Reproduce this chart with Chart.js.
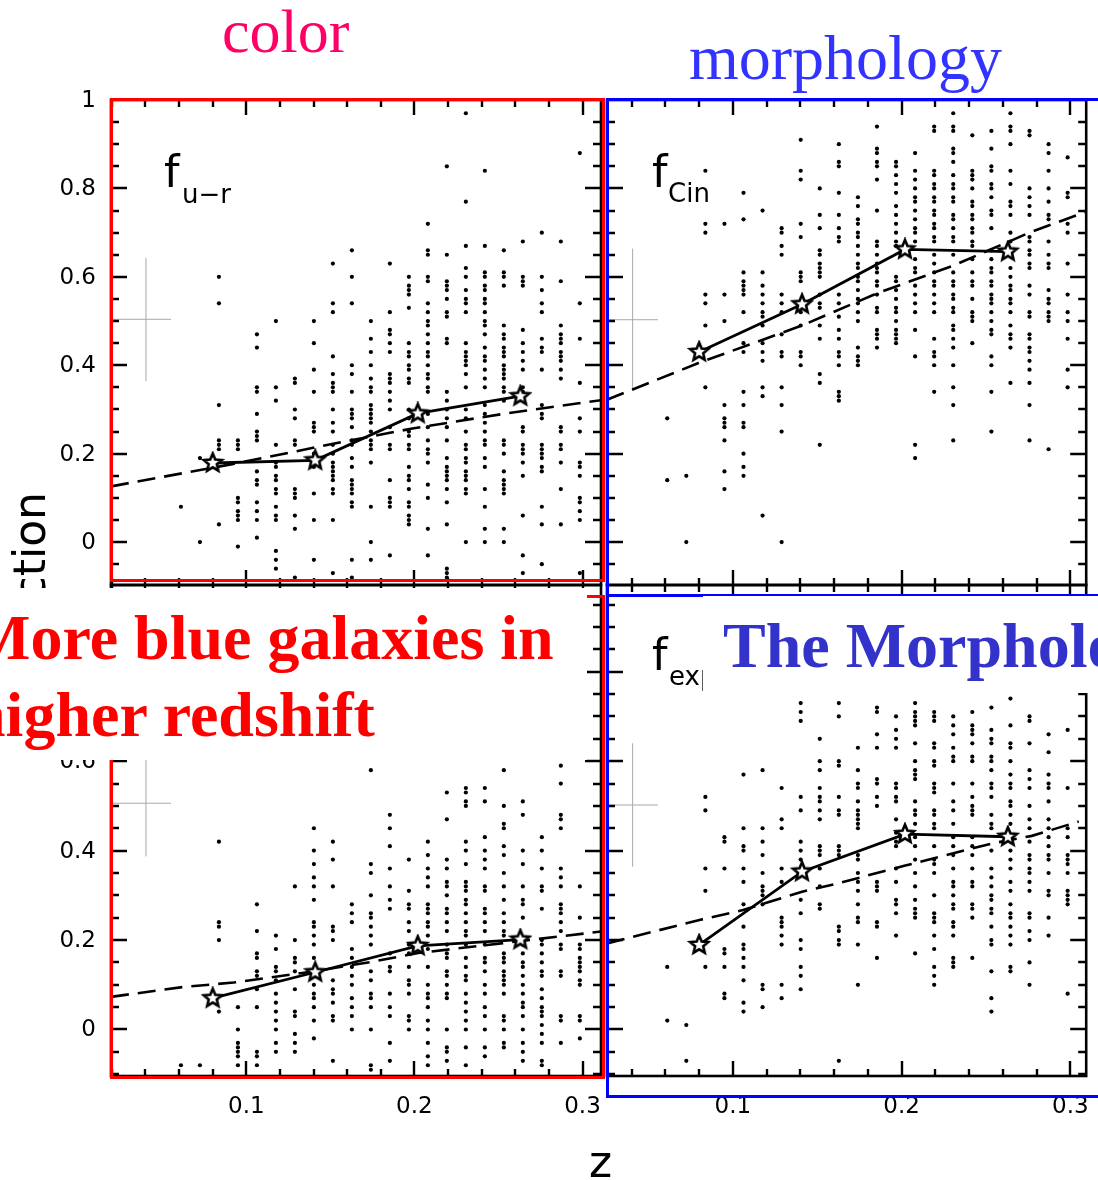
<!DOCTYPE html>
<html>
<head>
<meta charset="utf-8">
<script src="https://cdn.jsdelivr.net/npm/chart.js@4.4.1/dist/chart.umd.min.js"></script>
<style>
  body { margin: 0; background: #fff; }
  #page { position: relative; width: 1098px; height: 1180px; overflow: hidden; background: #fff; }
  #page canvas { position: absolute; left: 0; top: 0; }
  .txt { position: absolute; white-space: nowrap; }
  .sans { font-family: 'DejaVu Sans', sans-serif; color: #000; }
  .serif { font-family: 'Liberation Serif', 'Times New Roman', serif; }
  .box { position: absolute; box-sizing: border-box; border: 3px solid; }
  .cover { position: absolute; background: #fff; overflow: hidden; }
</style>
</head>
<body>
<div id="page">
  <canvas id="urChart" width="1098" height="1180"></canvas>
  <canvas id="cinChart" width="1098" height="1180"></canvas>
  <canvas id="colourChart" width="1098" height="1180"></canvas>
  <canvas id="expChart" width="1098" height="1180"></canvas>

  <!-- panel labels -->
  <div class="txt sans" style="left:164px;top:150px;font-size:44px;line-height:44px">f</div>
  <div class="txt sans" style="left:182px;top:181px;font-size:26px;line-height:26px">u−r</div>
  <div class="txt sans" style="left:652px;top:150px;font-size:44px;line-height:44px">f</div>
  <div class="txt sans" style="left:668px;top:180px;font-size:26px;line-height:26px">Cin</div>
  <div class="txt sans" style="left:652px;top:633px;font-size:44px;line-height:44px">f</div>
  <div class="txt sans" style="left:669px;top:663px;font-size:26px;line-height:26px">exp</div>

  <!-- shared axis titles -->
  <div class="txt sans" style="left:8px;top:792px;width:300px;text-align:right;font-size:44px;line-height:44px;transform:rotate(-90deg);transform-origin:0 0">fraction</div>
  <div class="txt sans" style="left:589px;top:1140px;font-size:44px;line-height:44px">z</div>

  <!-- colour / morphology groupings -->
  <div class="box" style="left:110px;top:98px;width:495px;height:484px;border-color:#ff0000"></div>
  <div class="box" style="left:110px;top:595px;width:495px;height:484px;border-color:#ff0000"></div>
  <div class="box" style="left:606px;top:98px;width:520px;height:499px;border-color:#0000ff;border-right:none"></div>
  <div class="box" style="left:606px;top:594px;width:520px;height:504px;border-color:#0000ff;border-right:none"></div>

  <div class="cover" style="left:0;top:588px;width:587px;height:172px">
    <div class="txt serif" style="left:-30px;top:18px;font-size:64px;line-height:64px;font-weight:bold;color:#ff0000">More blue galaxies in</div>
    <div class="txt serif" style="left:-30px;top:95px;font-size:64px;line-height:64px;font-weight:bold;color:#ff0000">higher redshift</div>
  </div>
  <div class="cover" style="left:703px;top:596px;width:395px;height:97px">
    <div class="txt serif" style="left:20px;top:18px;font-size:64px;line-height:64px;font-weight:bold;color:#3333cc">The Morphology</div>
  </div>

  <div class="txt serif" style="left:222px;top:0px;font-size:62px;line-height:62px;color:#ff0066">color</div>
  <div class="txt serif" style="left:689px;top:26px;font-size:64px;line-height:64px;color:#3333ff">morphology</div>
</div>

<script>
// redshift of each column of clusters
const zColumns = [0.0611, 0.0724, 0.0837, 0.0950, 0.1063, 0.1176, 0.1289, 0.1402, 0.1515, 0.1628, 0.1741,
                  0.1854, 0.1967, 0.2080, 0.2193, 0.2306, 0.2419, 0.2532, 0.2645, 0.2758, 0.2871, 0.2984];

// per-cluster fractions, one list per column of zColumns
const urCols = [
  [0.08],
  [0.0, 0.19],
  [0.60, 0.54, 0.31, 0.23, 0.22, 0.21, 0.04],
  [0.23, 0.22, 0.21, 0.10, 0.09, 0.07, 0.06, 0.05, -0.01],
  [0.47, 0.44, 0.35, 0.34, 0.29, 0.25, 0.24, 0.23, 0.16, 0.14, 0.13, 0.09, 0.07, 0.05, 0.01],
  [0.50, 0.35, 0.32, 0.22, 0.18, 0.17, 0.15, 0.14, 0.12, 0.11, 0.08, 0.06, 0.05, -0.02, -0.04, -0.06],
  [0.37, 0.36, 0.30, 0.28, 0.23, 0.22, 0.12, 0.11, 0.10, 0.06, 0.03, -0.08],
  [0.50, 0.45, 0.39, 0.34, 0.27, 0.26, 0.25, 0.20, 0.18, 0.17, 0.11, 0.05, -0.04],
  [0.63, 0.54, 0.52, 0.42, 0.38, 0.36, 0.35, 0.34, 0.30, 0.27, 0.25, 0.22, 0.20, 0.18, 0.17, 0.16, 0.15, 0.14, 0.12, 0.11, 0.05, -0.07],
  [0.66, 0.60, 0.54, 0.40, 0.38, 0.34, 0.30, 0.29, 0.28, 0.26, 0.23, 0.22, 0.19, 0.17, 0.14, 0.13, 0.12, 0.11, 0.09, 0.08, -0.04, -0.08],
  [0.50, 0.46, 0.43, 0.40, 0.37, 0.35, 0.34, 0.31, 0.30, 0.29, 0.28, 0.27, 0.25, 0.23, 0.22, 0.21, 0.18, 0.08, 0.0, -0.04],
  [0.63, 0.52, 0.48, 0.47, 0.45, 0.43, 0.38, 0.37, 0.36, 0.34, 0.32, 0.30, 0.26, 0.22, 0.21, 0.14, 0.10, 0.09, 0.08, -0.03],
  [0.60, 0.58, 0.57, 0.56, 0.53, 0.45, 0.43, 0.42, 0.40, 0.39, 0.37, 0.36, 0.30, 0.28, 0.25, 0.24, 0.22, 0.21, 0.17, 0.15, 0.14, 0.12, 0.09, 0.08, 0.06, 0.05, 0.04],
  [0.72, 0.66, 0.65, 0.60, 0.59, 0.54, 0.52, 0.50, 0.49, 0.47, 0.45, 0.43, 0.42, 0.40, 0.38, 0.37, 0.35, 0.34, 0.29, 0.26, 0.23, 0.21, 0.20, 0.18, 0.13, 0.10, 0.03, -0.03],
  [0.85, 0.65, 0.59, 0.58, 0.57, 0.55, 0.52, 0.51, 0.46, 0.45, 0.34, 0.32, 0.30, 0.28, 0.26, 0.23, 0.19, 0.17, 0.16, 0.15, 0.14, 0.12, 0.09, 0.04, -0.06, -0.07, -0.08],
  [0.97, 0.77, 0.67, 0.62, 0.60, 0.57, 0.55, 0.54, 0.52, 0.45, 0.43, 0.42, 0.41, 0.40, 0.38, 0.35, 0.30, 0.28, 0.25, 0.22, 0.21, 0.19, 0.18, 0.16, 0.15, 0.14, 0.12, 0.11, 0.0],
  [0.84, 0.67, 0.61, 0.60, 0.58, 0.57, 0.55, 0.54, 0.52, 0.50, 0.49, 0.47, 0.44, 0.42, 0.41, 0.39, 0.37, 0.35, 0.31, 0.29, 0.27, 0.25, 0.23, 0.22, 0.19, 0.17, 0.12, 0.08, 0.03, 0.0],
  [0.66, 0.61, 0.60, 0.58, 0.49, 0.47, 0.46, 0.44, 0.43, 0.42, 0.40, 0.39, 0.38, 0.37, 0.35, 0.34, 0.32, 0.23, 0.22, 0.20, 0.16, 0.14, 0.13, 0.12, 0.11, 0.03, 0.0],
  [0.68, 0.60, 0.59, 0.58, 0.48, 0.45, 0.43, 0.41, 0.39, 0.35, 0.34, 0.26, 0.25, 0.22, 0.21, 0.20, 0.18, 0.15, 0.06, -0.03, -0.07],
  [0.70, 0.60, 0.57, 0.54, 0.52, 0.46, 0.44, 0.43, 0.39, 0.31, 0.29, 0.28, 0.22, 0.21, 0.20, 0.19, 0.17, 0.16, 0.08, 0.04, -0.05],
  [0.68, 0.59, 0.49, 0.47, 0.46, 0.45, 0.43, 0.42, 0.41, 0.39, 0.37, 0.26, 0.25, 0.22, 0.21, 0.18, 0.12, 0.04],
  [0.88, 0.54, 0.46, 0.36, 0.28, 0.25, 0.18, 0.17, 0.15, 0.10, 0.09, 0.07, 0.05, -0.07]
];

const cinCols = [
  [0.28, 0.14],
  [0.15, 0.0],
  [0.84, 0.72, 0.70, 0.56, 0.54, 0.49, 0.35],
  [0.72, 0.56, 0.50, 0.31, 0.28, 0.27, 0.26, 0.23, 0.16, 0.12],
  [0.79, 0.73, 0.61, 0.59, 0.58, 0.57, 0.56, 0.52, 0.45, 0.43, 0.34, 0.31, 0.27, 0.26, 0.20, 0.17, 0.15],
  [0.75, 0.61, 0.58, 0.56, 0.54, 0.52, 0.51, 0.49, 0.45, 0.43, 0.41, 0.35, 0.33, 0.06],
  [0.71, 0.70, 0.67, 0.65, 0.56, 0.54, 0.52, 0.47, 0.43, 0.42, 0.35, 0.31, 0.25, 0.0],
  [0.91, 0.84, 0.82, 0.72, 0.69, 0.61, 0.60, 0.59, 0.52, 0.49, 0.43, 0.42, 0.40],
  [0.80, 0.74, 0.71, 0.66, 0.65, 0.63, 0.62, 0.61, 0.60, 0.56, 0.54, 0.53, 0.49, 0.46, 0.38, 0.36, 0.22],
  [0.90, 0.86, 0.85, 0.79, 0.74, 0.71, 0.69, 0.68, 0.56, 0.54, 0.51, 0.48, 0.46, 0.43, 0.42, 0.40, 0.34, 0.33, 0.32],
  [0.78, 0.76, 0.73, 0.72, 0.70, 0.69, 0.67, 0.65, 0.63, 0.62, 0.60, 0.59, 0.57, 0.55, 0.54, 0.52, 0.50, 0.44, 0.42, 0.41, 0.40],
  [0.94, 0.89, 0.88, 0.86, 0.85, 0.82, 0.75, 0.68, 0.67, 0.65, 0.63, 0.62, 0.61, 0.59, 0.58, 0.56, 0.53, 0.52, 0.48, 0.47, 0.46, 0.44],
  [0.86, 0.85, 0.83, 0.81, 0.79, 0.76, 0.74, 0.72, 0.70, 0.68, 0.67, 0.60, 0.59, 0.57, 0.55, 0.53, 0.52, 0.50, 0.48, 0.47, 0.46, 0.45],
  [0.88, 0.84, 0.82, 0.80, 0.78, 0.77, 0.75, 0.73, 0.71, 0.70, 0.68, 0.64, 0.62, 0.61, 0.58, 0.56, 0.54, 0.52, 0.48, 0.42, 0.22, 0.19],
  [0.94, 0.93, 0.84, 0.83, 0.81, 0.80, 0.78, 0.77, 0.75, 0.74, 0.72, 0.71, 0.69, 0.68, 0.65, 0.63, 0.61, 0.59, 0.58, 0.56, 0.54, 0.52, 0.46, 0.43, 0.42, 0.40, 0.34],
  [0.97, 0.94, 0.93, 0.89, 0.88, 0.86, 0.83, 0.81, 0.80, 0.78, 0.77, 0.74, 0.73, 0.71, 0.69, 0.68, 0.65, 0.61, 0.59, 0.58, 0.56, 0.55, 0.53, 0.52, 0.49, 0.48, 0.46, 0.44, 0.40, 0.35, 0.31, 0.23],
  [0.92, 0.84, 0.83, 0.82, 0.80, 0.77, 0.76, 0.74, 0.73, 0.71, 0.70, 0.68, 0.67, 0.64, 0.61, 0.59, 0.58, 0.55, 0.52, 0.51, 0.50, 0.45],
  [0.93, 0.89, 0.85, 0.84, 0.81, 0.80, 0.78, 0.75, 0.74, 0.71, 0.66, 0.64, 0.62, 0.61, 0.59, 0.58, 0.56, 0.55, 0.54, 0.52, 0.50, 0.48, 0.47, 0.42, 0.40, 0.34, 0.25],
  [0.97, 0.94, 0.93, 0.90, 0.84, 0.81, 0.77, 0.76, 0.74, 0.70, 0.68, 0.62, 0.60, 0.58, 0.57, 0.55, 0.54, 0.52, 0.49, 0.47, 0.46, 0.44, 0.36],
  [0.93, 0.92, 0.80, 0.78, 0.76, 0.74, 0.69, 0.68, 0.66, 0.65, 0.63, 0.62, 0.58, 0.56, 0.52, 0.51, 0.47, 0.46, 0.44, 0.43, 0.41, 0.39, 0.36, 0.31, 0.23],
  [0.90, 0.88, 0.84, 0.80, 0.77, 0.74, 0.73, 0.68, 0.65, 0.63, 0.62, 0.57, 0.55, 0.54, 0.52, 0.51, 0.50, 0.21],
  [0.87, 0.79, 0.78, 0.72, 0.70, 0.63, 0.56, 0.52, 0.50, 0.46, 0.39, 0.35]
];

const colourCols = [
  [-0.08],
  [-0.08],
  [0.42, 0.24, 0.23, 0.20, 0.04],
  [0.05, 0.0, -0.03, -0.04, -0.05, -0.06, -0.08],
  [0.28, 0.22, 0.17, 0.16, 0.13, 0.12, 0.09, 0.05, -0.05, -0.06, -0.08],
  [0.21, 0.18, 0.14, 0.13, 0.11, 0.08, 0.06, 0.04, 0.02, 0.0, -0.03, -0.05],
  [0.32, 0.20, 0.16, 0.15, 0.13, 0.09, 0.04, 0.03, -0.01, -0.03, -0.05],
  [0.45, 0.40, 0.37, 0.34, 0.32, 0.29, 0.24, 0.23, 0.21, 0.19, 0.16, 0.10, 0.08, 0.07, 0.05, 0.02, -0.02],
  [0.42, 0.38, 0.32, 0.23, 0.22, 0.20, 0.11, 0.09, 0.08, 0.06, 0.03, 0.02, -0.07],
  [0.28, 0.26, 0.24, 0.18, 0.16, 0.14, 0.12, 0.10, 0.07, 0.05, 0.03, 0.0],
  [0.58, 0.37, 0.35, 0.30, 0.26, 0.25, 0.23, 0.21, 0.19, 0.13, 0.11, 0.08, 0.07, 0.05, 0.0, -0.08, -0.09],
  [0.48, 0.45, 0.41, 0.36, 0.32, 0.29, 0.27, 0.17, 0.14, 0.13, 0.08, 0.05, 0.03, -0.03, -0.07],
  [0.38, 0.31, 0.28, 0.27, 0.24, 0.22, 0.19, 0.17, 0.14, 0.11, 0.10, 0.08, 0.03, 0.02, 0.0],
  [0.42, 0.39, 0.36, 0.34, 0.32, 0.28, 0.27, 0.26, 0.24, 0.23, 0.21, 0.18, 0.14, 0.10, 0.08, 0.07, 0.05, 0.02, 0.0, -0.03, -0.06, -0.08],
  [0.53, 0.47, 0.38, 0.36, 0.33, 0.32, 0.30, 0.27, 0.26, 0.24, 0.22, 0.19, 0.17, 0.16, 0.13, 0.12, 0.10, 0.08, 0.07, 0.0, -0.04, -0.05, -0.07],
  [0.54, 0.53, 0.51, 0.50, 0.42, 0.40, 0.37, 0.33, 0.32, 0.31, 0.29, 0.28, 0.26, 0.24, 0.22, 0.21, 0.19, 0.16, 0.14, 0.12, 0.11, 0.08, 0.06, 0.04, 0.02, 0.0, -0.04, -0.08],
  [0.54, 0.51, 0.43, 0.40, 0.38, 0.36, 0.32, 0.31, 0.27, 0.26, 0.24, 0.22, 0.19, 0.16, 0.15, 0.13, 0.10, 0.08, 0.05, 0.03, 0.0, -0.04, -0.06],
  [0.58, 0.50, 0.46, 0.45, 0.41, 0.39, 0.35, 0.32, 0.29, 0.26, 0.24, 0.22, 0.21, 0.17, 0.16, 0.15, 0.13, 0.12, 0.11, 0.10, 0.08, 0.03, 0.02, 0.0, -0.03, -0.04],
  [0.51, 0.48, 0.40, 0.37, 0.32, 0.29, 0.28, 0.25, 0.19, 0.17, 0.15, 0.14, 0.12, 0.10, 0.08, 0.06, 0.05, 0.03, 0.0, -0.03, -0.05, -0.07],
  [0.43, 0.40, 0.36, 0.32, 0.31, 0.27, 0.20, 0.19, 0.17, 0.15, 0.13, 0.12, 0.09, 0.07, 0.05, 0.04, 0.03, 0.01, -0.01, -0.03, -0.07, -0.08],
  [0.59, 0.55, 0.48, 0.47, 0.45, 0.36, 0.34, 0.32, 0.28, 0.27, 0.26, 0.24, 0.22, 0.19, 0.18, 0.13, 0.12, 0.03, 0.02, -0.03],
  [0.32, 0.25, 0.19, 0.18, 0.16, 0.15, 0.14, 0.13, 0.11, 0.10, 0.03, 0.02, -0.02]
];

const expCols = [
  [0.14, 0.02],
  [0.01, -0.07],
  [0.52, 0.49, 0.36, 0.31, 0.14],
  [0.43, 0.42, 0.36, 0.18, 0.17, 0.14, 0.08, 0.07],
  [0.57, 0.45, 0.41, 0.40, 0.36, 0.33, 0.28, 0.23, 0.19, 0.18, 0.16, 0.14, 0.11, 0.06, 0.04],
  [0.58, 0.45, 0.42, 0.39, 0.35, 0.32, 0.31, 0.30, 0.28, 0.10, 0.09, 0.05],
  [0.54, 0.47, 0.45, 0.36, 0.33, 0.25, 0.24, 0.23, 0.21, 0.19, 0.10, 0.07],
  [0.73, 0.71, 0.69, 0.52, 0.49, 0.42, 0.40, 0.38, 0.29, 0.26, 0.20, 0.18, 0.14, 0.12, 0.09],
  [0.65, 0.60, 0.58, 0.54, 0.52, 0.51, 0.49, 0.47, 0.41, 0.40, 0.39, 0.36, 0.32, 0.28, 0.27],
  [0.73, 0.70, 0.60, 0.59, 0.52, 0.49, 0.48, 0.41, 0.40, 0.39, 0.23, 0.22, 0.20, 0.19, -0.07],
  [0.63, 0.58, 0.55, 0.54, 0.51, 0.49, 0.48, 0.47, 0.46, 0.45, 0.39, 0.38, 0.35, 0.33, 0.31, 0.28, 0.25, 0.24, 0.19, 0.10],
  [0.72, 0.71, 0.66, 0.63, 0.56, 0.55, 0.52, 0.50, 0.33, 0.32, 0.31, 0.24, 0.23, 0.16],
  [0.70, 0.67, 0.65, 0.63, 0.55, 0.54, 0.52, 0.51, 0.47, 0.44, 0.42, 0.41, 0.36, 0.33, 0.29, 0.28, 0.26, 0.21],
  [0.73, 0.71, 0.70, 0.69, 0.68, 0.64, 0.60, 0.58, 0.57, 0.56, 0.51, 0.49, 0.48, 0.46, 0.43, 0.41, 0.38, 0.35, 0.32, 0.29, 0.27, 0.26, 0.25, 0.17],
  [0.71, 0.70, 0.69, 0.64, 0.63, 0.60, 0.59, 0.55, 0.54, 0.53, 0.49, 0.48, 0.46, 0.45, 0.41, 0.38, 0.37, 0.35, 0.30, 0.26, 0.25, 0.24, 0.21, 0.18, 0.14, 0.12, 0.10],
  [0.70, 0.68, 0.66, 0.63, 0.61, 0.60, 0.55, 0.51, 0.49, 0.46, 0.43, 0.41, 0.39, 0.36, 0.33, 0.32, 0.30, 0.28, 0.27, 0.24, 0.23, 0.21, 0.16, 0.15, 0.14],
  [0.71, 0.68, 0.67, 0.66, 0.64, 0.61, 0.60, 0.55, 0.52, 0.50, 0.49, 0.48, 0.43, 0.41, 0.39, 0.36, 0.33, 0.32, 0.28, 0.27, 0.25, 0.16],
  [0.72, 0.67, 0.65, 0.64, 0.61, 0.60, 0.58, 0.55, 0.54, 0.52, 0.48, 0.46, 0.45, 0.40, 0.36, 0.34, 0.32, 0.30, 0.29, 0.27, 0.26, 0.23, 0.20, 0.19, 0.13, 0.07, 0.04],
  [0.74, 0.68, 0.64, 0.63, 0.60, 0.57, 0.55, 0.54, 0.51, 0.50, 0.48, 0.46, 0.40, 0.38, 0.36, 0.33, 0.31, 0.28, 0.26, 0.25, 0.23, 0.21, 0.19, 0.14, 0.13],
  [0.70, 0.69, 0.64, 0.58, 0.56, 0.54, 0.50, 0.47, 0.45, 0.42, 0.39, 0.38, 0.36, 0.35, 0.33, 0.31, 0.26, 0.25, 0.22, 0.20, 0.15, 0.10],
  [0.66, 0.62, 0.57, 0.55, 0.54, 0.51, 0.47, 0.45, 0.43, 0.41, 0.39, 0.38, 0.35, 0.31, 0.30, 0.25, 0.21],
  [0.67, 0.54, 0.45, 0.43, 0.39, 0.38, 0.37, 0.35, 0.31, 0.30, 0.29, 0.28, 0.08]
];

// binned means (stars)
const meanZ = [0.080, 0.141, 0.202, 0.263];
const urMean = [0.179, 0.185, 0.291, 0.330];
const cinMean = [0.430, 0.538, 0.662, 0.657];
const colourMean = [0.070, 0.128, 0.187, 0.201];
const expMean = [0.189, 0.353, 0.437, 0.431];

// model curves (dashed)
const urModelZ = [0.0195, 0.0924, 0.1525, 0.1988, 0.2544, 0.311];
const urModel = [0.126, 0.177, 0.223, 0.257, 0.291, 0.321];
const cinModelZ = [0.0254, 0.0796, 0.141, 0.185, 0.231, 0.277, 0.3094];
const cinModel = [0.322, 0.405, 0.490, 0.562, 0.626, 0.702, 0.747];
const colourModelZ = [0.0195, 0.0623, 0.0924, 0.1417, 0.1757, 0.2023, 0.2637, 0.311];
const colourModel = [0.073, 0.095, 0.105, 0.131, 0.152, 0.171, 0.198, 0.219];
const expModelZ = [0.0254, 0.0802, 0.106, 0.141, 0.1624, 0.2016, 0.2307, 0.2535, 0.2772, 0.305];
const expModel = [0.1925, 0.245, 0.267, 0.308, 0.327, 0.366, 0.394, 0.416, 0.433, 0.465];

// typical error bar: [z, yLow, yHigh, yMid, zEnd]
const urErr = [0.0403, 0.364, 0.643, 0.504, 0.0552];
const cinErr = [0.0406, 0.347, 0.664, 0.503, 0.0556];
const colourErr = [0.0403, 0.387, 0.640, 0.506, 0.0552];
const expErr = [0.0406, 0.364, 0.640, 0.502, 0.0556];

// axes
const yMajorTicks = [0, 0.2, 0.4, 0.6, 0.8, 1];
const yTickLabels = ['0', '0.2', '0.4', '0.6', '0.8', '1'];
const xMajorTicks = [0.1, 0.2, 0.3];
const xTickLabels = ['0.1', '0.2', '0.3'];
const yMinorStep = 0.05;
const xMinorStep = 0.02;

// open five-point star used for the binned means
function starMarker(r) {
  const s = Math.ceil(2 * r + 5);
  const c = document.createElement('canvas');
  c.width = c.height = s;
  const g = c.getContext('2d');
  g.beginPath();
  for (let i = 0; i < 10; i++) {
    const a = -Math.PI / 2 + i * Math.PI / 5;
    const rr = i % 2 ? r * 0.45 : r;
    g.lineTo(s / 2 + rr * Math.cos(a), s / 2 + rr * Math.sin(a));
  }
  g.closePath();
  g.fillStyle = '#fff';
  g.fill();
  g.lineWidth = 2.6;
  g.lineJoin = 'miter';
  g.strokeStyle = '#000';
  g.stroke();
  return c;
}
const star = starMarker(9.5);

// black box with inward ticks on all four sides, plus tick labels where asked
const axisBox = {
  id: 'axisBox',
  afterDatasetsDraw(chart, args, opts) {
    const { ctx, chartArea: a, scales: { x, y } } = chart;
    ctx.save();
    ctx.strokeStyle = '#000';
    ctx.lineWidth = 2.6;
    ctx.strokeRect(a.left, a.top, a.right - a.left, a.bottom - a.top);

    ctx.lineWidth = 2.4;
    ctx.beginPath();
    for (let k = Math.ceil(y.min / yMinorStep); k * yMinorStep <= y.max + 1e-9; k++) {
      const v = k * yMinorStep;
      const p = Math.round(y.getPixelForValue(v));
      if (p < a.top + 1 || p > a.bottom - 1) continue;
      const len = k % 4 === 0 ? 16 : 8;
      ctx.moveTo(a.left, p); ctx.lineTo(a.left + len, p);
      ctx.moveTo(a.right, p); ctx.lineTo(a.right - len, p);
    }
    for (let k = Math.ceil(x.min / xMinorStep); k * xMinorStep <= x.max + 1e-9; k++) {
      const v = k * xMinorStep;
      const p = Math.round(x.getPixelForValue(v));
      if (p < a.left + 1 || p > a.right - 1) continue;
      const len = k % 5 === 0 ? 15 : 7;
      ctx.moveTo(p, a.top); ctx.lineTo(p, a.top + len);
      ctx.moveTo(p, a.bottom); ctx.lineTo(p, a.bottom - len);
    }
    ctx.stroke();

    ctx.fillStyle = '#000';
    ctx.font = '23px "DejaVu Sans"';
    if (opts.yLabels) {
      ctx.textAlign = 'right';
      ctx.textBaseline = 'middle';
      yMajorTicks.forEach((v, i) => {
        if (v < y.min || v > y.max + 1e-9) return;
        ctx.fillText(yTickLabels[i], a.left - 15, y.getPixelForValue(v) + 1);
      });
    }
    if (opts.xLabels) {
      ctx.textAlign = 'center';
      ctx.textBaseline = 'middle';
      xMajorTicks.forEach((v, i) => {
        ctx.fillText(xTickLabels[i], x.getPixelForValue(v), a.bottom + 31);
      });
    }
    ctx.restore();
  }
};

function panel(id, area, xRange, yRange, cols, mean, modelZ, model, err, labels) {
  const dots = [];
  cols.forEach((col, i) => col.forEach(v => dots.push({ x: zColumns[i], y: v })));
  return new Chart(document.getElementById(id), {
    type: 'scatter',
    data: {
      datasets: [
        {
          data: meanZ.map((z, i) => ({ x: z, y: mean[i] })),
          showLine: true,
          borderColor: '#000',
          borderWidth: 2.8,
          pointStyle: star,
          pointRadius: 9,
          order: 0
        },
        {
          data: modelZ.map((z, i) => ({ x: z, y: model[i] })),
          showLine: true,
          borderColor: '#000',
          borderWidth: 2.6,
          borderDash: [18, 9],
          pointRadius: 0,
          order: 1
        },
        {
          data: dots,
          backgroundColor: '#000',
          borderWidth: 0,
          pointRadius: 2.1,
          order: 2
        },
        {
          data: [{ x: err[0], y: err[1] }, { x: err[0], y: err[2] }],
          showLine: true,
          borderColor: '#a8a8a8',
          borderWidth: 1,
          pointRadius: 0,
          order: 3
        },
        {
          data: [{ x: xRange[0], y: err[3] }, { x: err[4], y: err[3] }],
          showLine: true,
          borderColor: '#a8a8a8',
          borderWidth: 1,
          pointRadius: 0,
          order: 3
        }
      ]
    },
    options: {
      responsive: false,
      animation: false,
      devicePixelRatio: 1,
      layout: { padding: { left: area[0], right: 1098 - area[1], top: area[2], bottom: 1180 - area[3] } },
      plugins: { legend: { display: false }, tooltip: { enabled: false }, axisBox: labels },
      scales: {
        x: { type: 'linear', display: false, min: xRange[0], max: xRange[1] },
        y: { type: 'linear', display: false, min: yRange[0], max: yRange[1] }
      }
    },
    plugins: [axisBox]
  });
}

const leftZ = [0.0195, 0.311];
const rightZ = [0.0254, 0.3094];
const upperY = [-0.097, 1.0];
const lowerY = [-0.104, 0.994];

panel('urChart', [111, 601, 100, 585], leftZ, upperY, urCols, urMean, urModelZ, urModel, urErr, { yLabels: true, xLabels: false });
panel('cinChart', [607, 1087, 100, 585], rightZ, upperY, cinCols, cinMean, cinModelZ, cinModel, cinErr, { yLabels: false, xLabels: false });
panel('colourChart', [111, 601, 585, 1076], leftZ, lowerY, colourCols, colourMean, colourModelZ, colourModel, colourErr, { yLabels: true, xLabels: true });
panel('expChart', [607, 1087, 585, 1076], rightZ, lowerY, expCols, expMean, expModelZ, expModel, expErr, { yLabels: false, xLabels: true });
</script>
</body>
</html>
